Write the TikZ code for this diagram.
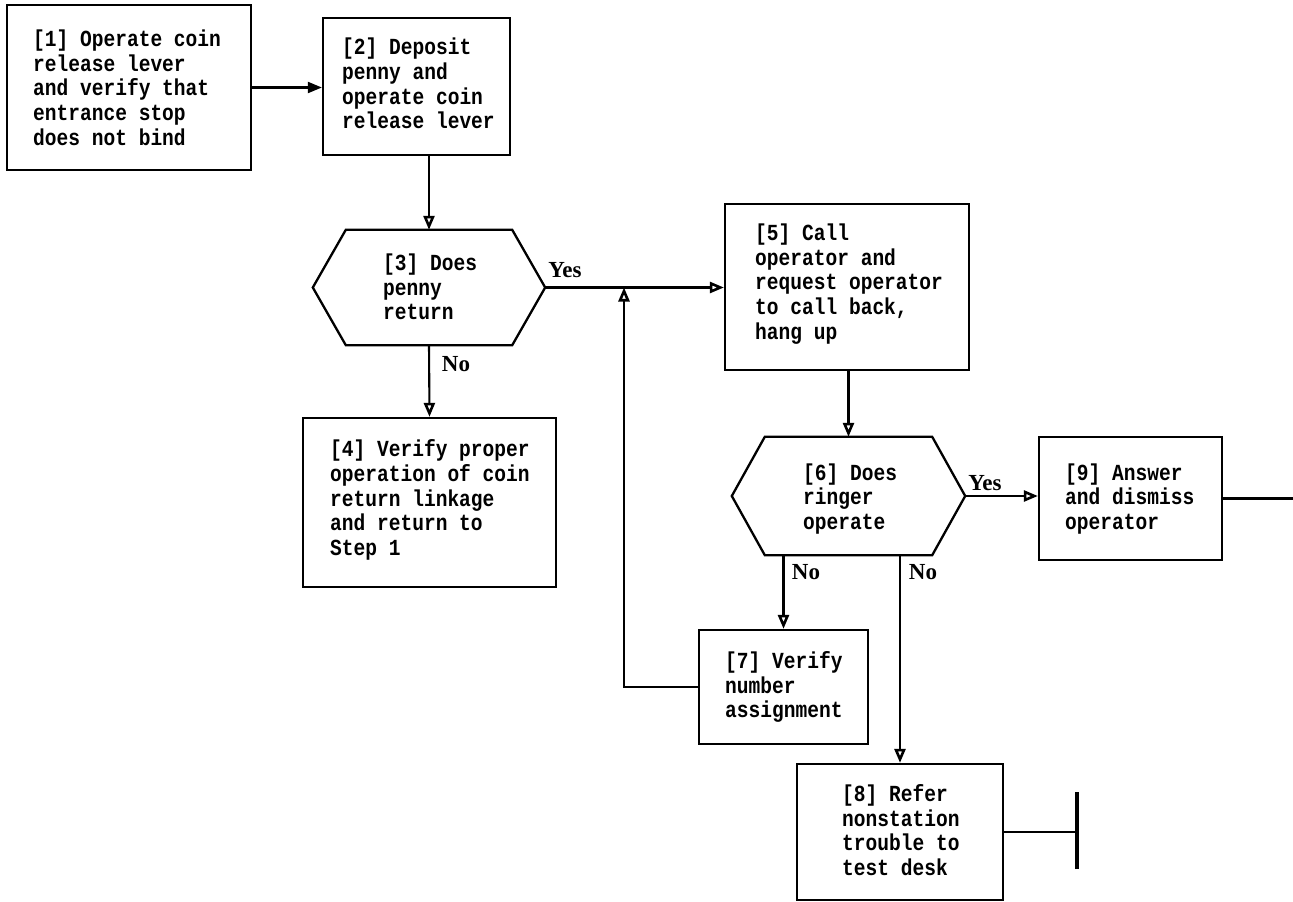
\documentclass[tikz,border=0pt]{standalone}
\usepackage{fontspec}
\setmainfont{Liberation Serif}
\newfontfamily\monofont[FakeStretch=0.85]{Liberation Mono}
\usetikzlibrary{arrows.meta}
\newcommand\rbox[5]{\node[stepbox, minimum width={#4-#2}, minimum height={#5-#3}] (#1) at ({(#2+#4)/2},{(#3+#5)/2}) {};}
\newcommand\hexa[5]{\node[hexnode, minimum width={#4-#2}, minimum height={#5-#3}] (#1) at ({(#2+#4)/2},{(#3+#5)/2}) {};
  \draw[stepline] (#1.west) -- ([xshift=33]#1.north west) -- ([xshift=-33]#1.north east) -- (#1.east) -- ([xshift=-33]#1.south east) -- ([xshift=33]#1.south west) -- cycle;}
\tikzset{
  stepbox/.style={draw, line width=2.3pt, inner sep=0pt},
  hexnode/.style={inner sep=0pt},
  stepline/.style={line width=2.3pt, line join=miter},
  txt/.style={font=\monofont\bfseries\fontsize{23}{24.7}\selectfont, align=left, anchor=west, inner sep=0pt},
  lbl/.style={font=\bfseries\fontsize{23}{26}\selectfont, inner sep=0pt},
  conn/.style={line width=2.1pt},
  arr/.style={conn, -{Triangle[open, length=14pt, width=11pt, line width=2.6pt]}},
  farr/.style={conn, -{Triangle[length=14pt, width=11pt]}},
}
\begin{document}
\begin{tikzpicture}[x=1pt, y=-1pt]
\useasboundingbox (0,0) rectangle (1293,902);
% boxes
\rbox{n1}{7}{5}{251}{170}
\rbox{n2}{323}{18}{510}{155}
\rbox{n4}{303}{418}{556}{587}
\rbox{n5}{725}{204}{969}{370}
\rbox{n7}{699}{630}{868}{744}
\rbox{n8}{797}{764}{1003}{900}
\rbox{n9}{1039}{437}{1222}{560}
\hexa{h3}{313}{230}{545}{345}
\hexa{h6}{732}{437}{965}{555}
% texts
\node[txt] (t1) at (33,87.5) {[1] Operate coin\\release lever\\and verify that\\entrance stop\\does not bind};
\node[txt] (t2) at (342,83.5) {[2] Deposit\\penny and\\operate coin\\release lever};
\node[txt] (t3) at (383,287) {[3] Does\\penny\\return};
\node[txt] (t4) at (330,500) {[4] Verify proper\\operation of coin\\return linkage\\and return to\\Step 1};
\node[txt] (t5) at (755,284) {[5] Call\\operator and\\request operator\\to call back,\\hang up};
\node[txt] (t6) at (803,499) {[6] Does\\ringer\\operate};
\node[txt] (t7) at (725,687) {[7] Verify\\number\\assignment};
\node[txt] (t8) at (842,830) {[8] Refer\\nonstation\\trouble to\\test desk};
\node[txt] (t9) at (1065,499) {[9] Answer\\and dismiss\\operator};
% labels
\node[lbl] (y3) at (565,270) {Yes};
\node[lbl] (no3) at (456,364) {No};
\node[lbl] (y6) at (985,483) {Yes};
\node[lbl] (no6a) at (806,572) {No};
\node[lbl] (no6b) at (923,572) {No};
% helper coordinates
\coordinate (j) at (624,287.5);
\coordinate (out9) at (1293,498.5);
\coordinate (bar) at (1077,832);
% connectors
\draw[farr] (n1.east) -- (n1.east -| n2.west);
\draw[arr] (h3.north |- n2.south) -- (h3.north);
\draw[arr] (h3.south) -- (n4.north);
\draw[arr] (h3.east) -- (h3.east -| n5.west);
\draw[arr] (n7.west) -| (j);
\draw[arr] (h6.north |- n5.south) -- (h6.north);
\draw[arr] (h6.east) -- (h6.east -| n9.west);
\draw[arr] (h6.south -| n7.north) -- (n7.north);
\draw[arr] (h6.south -| n8.north) -- (n8.north);
\draw[conn] (n9.east) -- (out9);
\draw[conn] (n8.east) -- (bar);
\draw[line width=3.4pt] ([yshift=-37]bar) -- ([yshift=40]bar);
\end{tikzpicture}
\end{document}
